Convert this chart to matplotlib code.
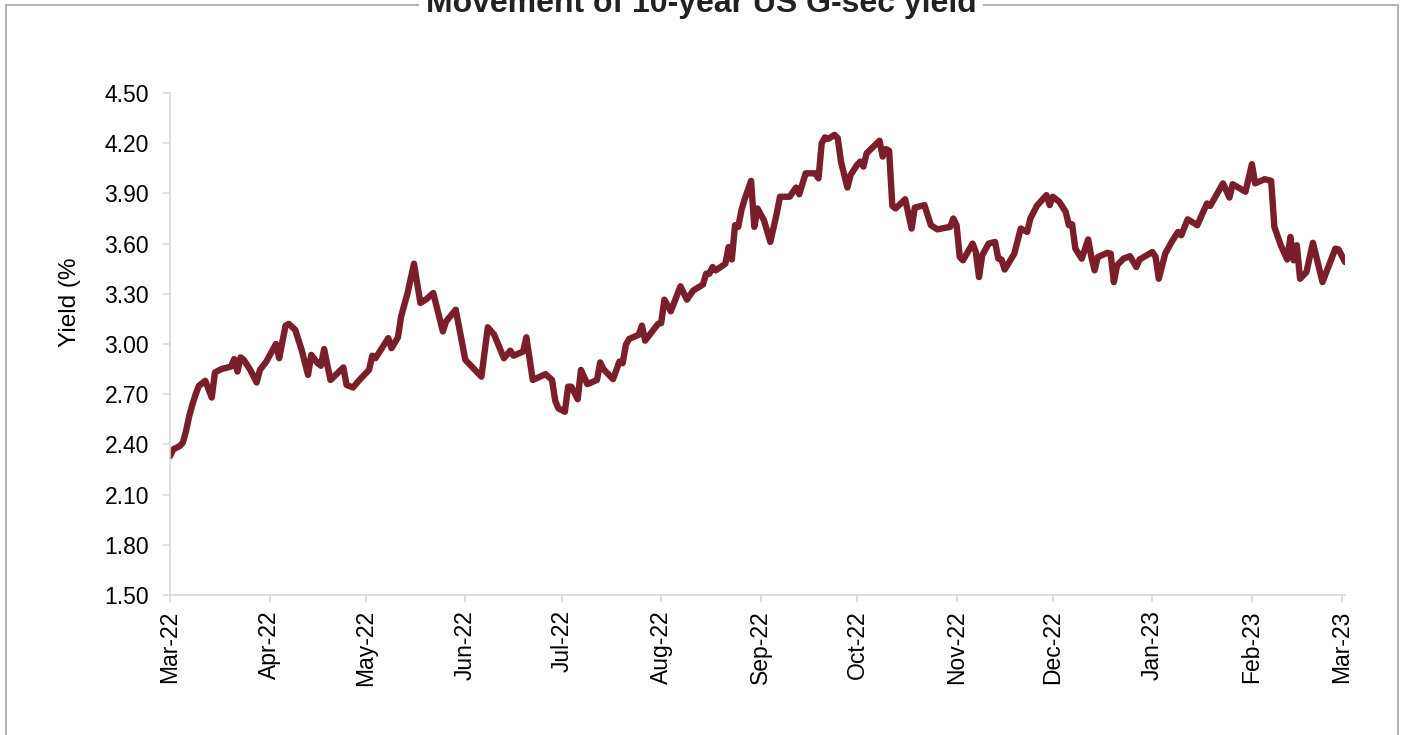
import matplotlib
matplotlib.use("Agg")
import matplotlib.pyplot as plt
import matplotlib.dates as mdates
import matplotlib.patches as patches
import numpy as np
import pandas as pd

plt.rcParams['font.family'] = ['Liberation Sans', 'DejaVu Sans']

# readings (date, 10y yield %)
dates = [
    '2022-03-01', '2022-03-02', '2022-03-04', '2022-03-05', '2022-03-06', '2022-03-07',
    '2022-03-08', '2022-03-09', '2022-03-10', '2022-03-12', '2022-03-14', '2022-03-15',
    '2022-03-17', '2022-03-20', '2022-03-21', '2022-03-22', '2022-03-23', '2022-03-24',
    '2022-03-26', '2022-03-28', '2022-03-29', '2022-03-31', '2022-04-03', '2022-04-04',
    '2022-04-06', '2022-04-07', '2022-04-09', '2022-04-11', '2022-04-13', '2022-04-14',
    '2022-04-16', '2022-04-17', '2022-04-18', '2022-04-19', '2022-04-20', '2022-04-24',
    '2022-04-25', '2022-04-27', '2022-04-29', '2022-05-02', '2022-05-03', '2022-05-04',
    '2022-05-08', '2022-05-09', '2022-05-11', '2022-05-12', '2022-05-14', '2022-05-16',
    '2022-05-18', '2022-05-20', '2022-05-22', '2022-05-25', '2022-05-26', '2022-05-29',
    '2022-06-01', '2022-06-04', '2022-06-06', '2022-06-08', '2022-06-10', '2022-06-13',
    '2022-06-15', '2022-06-16', '2022-06-19', '2022-06-20', '2022-06-22', '2022-06-26',
    '2022-06-28', '2022-06-29', '2022-06-30', '2022-07-02', '2022-07-03', '2022-07-04',
    '2022-07-06', '2022-07-07', '2022-07-09', '2022-07-12', '2022-07-13', '2022-07-14',
    '2022-07-17', '2022-07-19', '2022-07-20', '2022-07-21', '2022-07-22', '2022-07-25',
    '2022-07-26', '2022-07-27', '2022-07-31', '2022-08-01', '2022-08-02', '2022-08-04',
    '2022-08-07', '2022-08-09', '2022-08-11', '2022-08-14', '2022-08-15', '2022-08-16',
    '2022-08-17', '2022-08-18', '2022-08-21', '2022-08-22', '2022-08-23', '2022-08-24',
    '2022-08-25', '2022-08-26', '2022-08-27', '2022-08-29', '2022-08-30', '2022-08-31',
    '2022-09-02', '2022-09-04', '2022-09-06', '2022-09-07', '2022-09-10', '2022-09-12',
    '2022-09-13', '2022-09-15', '2022-09-18', '2022-09-19', '2022-09-20', '2022-09-21',
    '2022-09-22', '2022-09-24', '2022-09-25', '2022-09-26', '2022-09-28', '2022-09-29',
    '2022-10-01', '2022-10-02', '2022-10-03', '2022-10-04', '2022-10-08', '2022-10-09',
    '2022-10-10', '2022-10-11', '2022-10-12', '2022-10-13', '2022-10-16', '2022-10-18',
    '2022-10-19', '2022-10-22', '2022-10-24', '2022-10-26', '2022-10-30', '2022-10-31',
    '2022-11-01', '2022-11-02', '2022-11-03', '2022-11-06', '2022-11-07', '2022-11-08',
    '2022-11-09', '2022-11-11', '2022-11-13', '2022-11-14', '2022-11-15', '2022-11-16',
    '2022-11-19', '2022-11-21', '2022-11-23', '2022-11-24', '2022-11-26', '2022-11-29',
    '2022-11-30', '2022-12-01', '2022-12-03', '2022-12-05', '2022-12-06', '2022-12-07',
    '2022-12-08', '2022-12-10', '2022-12-12', '2022-12-13', '2022-12-14', '2022-12-15',
    '2022-12-18', '2022-12-19', '2022-12-20', '2022-12-21', '2022-12-23', '2022-12-25',
    '2022-12-27', '2022-12-28', '2023-01-01', '2023-01-02', '2023-01-03', '2023-01-05',
    '2023-01-07', '2023-01-09', '2023-01-10', '2023-01-12', '2023-01-15', '2023-01-18',
    '2023-01-19', '2023-01-23', '2023-01-25', '2023-01-26', '2023-01-30', '2023-02-01',
    '2023-02-02', '2023-02-05', '2023-02-07', '2023-02-08', '2023-02-10', '2023-02-12',
    '2023-02-13', '2023-02-14', '2023-02-15', '2023-02-16', '2023-02-18', '2023-02-20',
    '2023-02-23', '2023-02-27', '2023-02-28', '2023-03-02',
]
yields = [
    2.33, 2.37, 2.39, 2.41, 2.48, 2.57,
    2.64, 2.70, 2.75, 2.78, 2.68, 2.83,
    2.85, 2.865, 2.91, 2.835, 2.92, 2.905,
    2.845, 2.77, 2.845, 2.895, 3.00, 2.915,
    3.11, 3.12, 3.085, 2.965, 2.815, 2.935,
    2.885, 2.87, 2.97, 2.875, 2.785, 2.86,
    2.755, 2.74, 2.785, 2.845, 2.93, 2.915,
    3.035, 2.975, 3.04, 3.165, 3.305, 3.48,
    3.245, 3.27, 3.305, 3.075, 3.135, 3.205,
    2.905, 2.845, 2.805, 3.10, 3.055, 2.915,
    2.96, 2.93, 2.955, 3.04, 2.785, 2.82,
    2.785, 2.66, 2.615, 2.595, 2.745, 2.745,
    2.67, 2.845, 2.76, 2.785, 2.89, 2.85,
    2.79, 2.895, 2.885, 2.995, 3.03, 3.055,
    3.11, 3.02, 3.12, 3.125, 3.265, 3.195,
    3.345, 3.265, 3.32, 3.355, 3.42, 3.42,
    3.46, 3.44, 3.48, 3.58, 3.505, 3.71,
    3.70, 3.80, 3.865, 3.975, 3.70, 3.81,
    3.74, 3.61, 3.78, 3.88, 3.88, 3.935,
    3.895, 4.02, 4.02, 3.99, 4.20, 4.235,
    4.225, 4.25, 4.23, 4.09, 3.935, 4.01,
    4.07, 4.09, 4.06, 4.14, 4.215, 4.12,
    4.165, 4.155, 3.825, 3.81, 3.865, 3.69,
    3.815, 3.83, 3.71, 3.685, 3.70, 3.75,
    3.71, 3.52, 3.50, 3.60, 3.55, 3.40,
    3.53, 3.60, 3.61, 3.51, 3.505, 3.445,
    3.54, 3.69, 3.67, 3.75, 3.825, 3.89,
    3.83, 3.88, 3.85, 3.79, 3.71, 3.715,
    3.57, 3.51, 3.625, 3.52, 3.44, 3.52,
    3.545, 3.54, 3.37, 3.47, 3.51, 3.525,
    3.46, 3.505, 3.55, 3.52, 3.39, 3.54,
    3.61, 3.67, 3.65, 3.745, 3.71, 3.84,
    3.825, 3.96, 3.875, 3.955, 3.91, 4.075,
    3.96, 3.985, 3.975, 3.70, 3.59, 3.505,
    3.64, 3.50, 3.59, 3.39, 3.43, 3.605,
    3.37, 3.57, 3.565, 3.49,
]
month_ticks = pd.date_range('2022-03-01', '2023-03-01', freq='MS')
y_ticks = np.arange(1.5, 4.51, 0.3)

line_color = '#7a1e2c'
axis_gray = '#d9d9d9'

fig = plt.figure(figsize=(14.02, 7.35), dpi=100)
ax = fig.add_axes([170 / 1402, 1 - 595 / 735, (1345 - 170) / 1402, (595 - 93) / 735])

x = pd.to_datetime(dates)
ax.plot(x, yields, color=line_color, lw=4.6, solid_joinstyle='round', solid_capstyle='round')

ax.set_xlim(pd.Timestamp('2022-03-01'), pd.Timestamp('2023-03-02'))
ax.set_ylim(1.5, 4.5)
ax.set_yticks(y_ticks)
ax.set_yticklabels([f'{v:.2f}' for v in y_ticks])
ax.set_xticks(month_ticks)
ax.xaxis.set_major_formatter(mdates.DateFormatter('%b-%y'))

for side in ['top', 'right']:
    ax.spines[side].set_visible(False)
for side in ['left', 'bottom']:
    ax.spines[side].set_color(axis_gray)
    ax.spines[side].set_linewidth(1.2)

ax.tick_params(axis='y', colors=axis_gray, labelcolor='black', length=5, width=1.2,
               labelsize=16.5, pad=10)
ax.tick_params(axis='x', colors=axis_gray, labelcolor='black', length=5, width=1.2,
               labelsize=16.5, pad=6, labelrotation=90)

fig.text(70 / 1402, 1 - 302 / 735, 'Yield (%', rotation=90, ha='center', va='center',
         fontsize=17.5)

# outer frame with the title sitting on the top edge
frame = patches.Rectangle((5.5 / 1402, -0.05), (1398 - 5.5) / 1402, 1.05 - 5.5 / 735,
                          transform=fig.transFigure, fill=False, edgecolor='#b4b4b4',
                          lw=1.5, clip_on=False)
fig.patches.append(frame)
fig.text(701 / 1402, 1 - 12 / 735, 'Movement of 10-year US G-sec yield', ha='center',
         va='baseline', fontsize=23, fontweight='bold', color='#222222',
         bbox=dict(facecolor='white', edgecolor='none', pad=5))

fig.savefig('out.png', dpi=100)
